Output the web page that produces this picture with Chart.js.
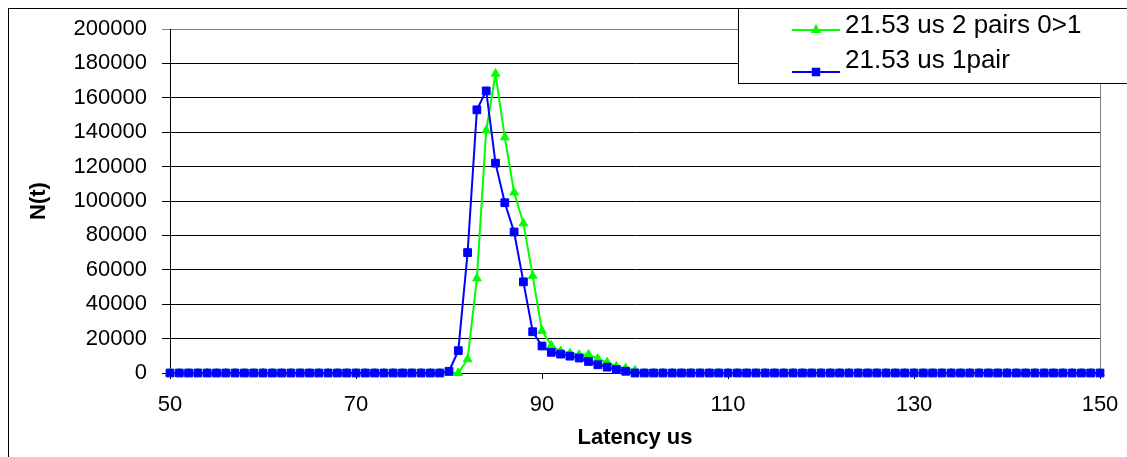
<!DOCTYPE html>
<html>
<head>
<meta charset="utf-8">
<title>Latency distribution</title>
<script src="https://cdn.jsdelivr.net/npm/chart.js@4.4.1/dist/chart.umd.min.js"></script>
<style>
  html, body { margin: 0; padding: 0; background: #fff; }
  #wrap { width: 1127px; height: 457px; }
</style>
</head>
<body>
<div id="wrap"><canvas id="latencyChart" width="1127" height="457"></canvas></div>
<script>
// latency bins (us)
const latency = [
  50, 51, 52, 53, 54, 55, 56, 57, 58, 59,
  60, 61, 62, 63, 64, 65, 66, 67, 68, 69,
  70, 71, 72, 73, 74, 75, 76, 77, 78, 79,
  80, 81, 82, 83, 84, 85, 86, 87, 88, 89,
  90, 91, 92, 93, 94, 95, 96, 97, 98, 99,
  100, 101, 102, 103, 104, 105, 106, 107, 108, 109,
  110, 111, 112, 113, 114, 115, 116, 117, 118, 119,
  120, 121, 122, 123, 124, 125, 126, 127, 128, 129,
  130, 131, 132, 133, 134, 135, 136, 137, 138, 139,
  140, 141, 142, 143, 144, 145, 146, 147, 148, 149,
  150
];

// N(t), 2 pairs 0>1
const twoPairs = [
  0, 0, 0, 0, 0, 0, 0, 0, 0, 0,
  0, 0, 0, 0, 0, 0, 0, 0, 0, 0,
  0, 0, 0, 0, 0, 0, 0, 0, 0, 0,
  0, 0, 8000, 55000, 141000, 174000, 137000, 105000, 87000, 56500,
  24500, 16000, 12700, 11500, 10600, 10700, 8300, 6300, 3800, 2800,
  1500, 0, 0, 0, 0, 0, 0, 0, 0, 0,
  0, 0, 0, 0, 0, 0, 0, 0, 0, 0,
  0, 0, 0, 0, 0, 0, 0, 0, 0, 0,
  0, 0, 0, 0, 0, 0, 0, 0, 0, 0,
  0, 0, 0, 0, 0, 0, 0, 0, 0, 0,
  0
];

// N(t), 1 pair
const onePair = [
  0, 0, 0, 0, 0, 0, 0, 0, 0, 0,
  0, 0, 0, 0, 0, 0, 0, 0, 0, 0,
  0, 0, 0, 0, 0, 0, 0, 0, 0, 0,
  1000, 13000, 70000, 153000, 164000, 122000, 99000, 82000, 53000, 24000,
  15700, 12000, 11000, 9800, 8700, 6700, 4800, 3400, 2000, 1000,
  0, 0, 0, 0, 0, 0, 0, 0, 0, 0,
  0, 0, 0, 0, 0, 0, 0, 0, 0, 0,
  0, 0, 0, 0, 0, 0, 0, 0, 0, 0,
  0, 0, 0, 0, 0, 0, 0, 0, 0, 0,
  0, 0, 0, 0, 0, 0, 0, 0, 0, 0,
  0
];

const seriesLabels = ['21.53 us 2 pairs 0>1', '21.53 us 1pair'];
const xTicks = [50, 70, 90, 110, 130, 150];
const yMax = 200000;
const yStep = 20000;

const FONT = '"Liberation Sans", Arial, sans-serif';

function points(values) {
    return latency.map((x, i) => ({ x: x, y: values[i] }));
}

// outer frame, plot border on the right
const framePlugin = {
    id: 'frame',
    beforeDatasetsDraw(chart) {
        const { ctx, chartArea } = chart;
        ctx.save();
        ctx.strokeStyle = '#808080';
        ctx.lineWidth = 1;
        ctx.beginPath();
        ctx.moveTo(Math.round(chartArea.right) + 0.5, chartArea.top);
        ctx.lineTo(Math.round(chartArea.right) + 0.5, chartArea.bottom);
        ctx.stroke();
        ctx.restore();
    },
    afterDraw(chart) {
        const ctx = chart.ctx;
        ctx.save();
        ctx.strokeStyle = '#000';
        ctx.lineWidth = 1;
        ctx.strokeRect(8.5, 8.5, 1200, 600);
        ctx.restore();
    }
};

// legend box in the top right corner
const legendBox = {
    id: 'legendBox',
    afterDraw(chart) {
        const ctx = chart.ctx;
        ctx.save();
        ctx.fillStyle = '#fff';
        ctx.fillRect(738, 8, 500, 75);
        ctx.strokeStyle = '#000';
        ctx.lineWidth = 1;
        ctx.strokeRect(738.5, 8.5, 500, 75);

        const rows = [
            { ds: chart.data.datasets[1], lineY: 30, textY: 26 },
            { ds: chart.data.datasets[0], lineY: 72, textY: 61 }
        ];
        rows.forEach(r => {
            ctx.strokeStyle = r.ds.borderColor;
            ctx.lineWidth = 2;
            ctx.beginPath();
            ctx.moveTo(792, r.lineY);
            ctx.lineTo(840, r.lineY);
            ctx.stroke();
            ctx.fillStyle = r.ds.backgroundColor;
            Chart.helpers.drawPoint(ctx, {
                pointStyle: r.ds.pointStyle,
                radius: r.ds.pointRadius - 1,
                borderWidth: 1,
                rotation: 0
            }, 816, r.lineY);
            ctx.fillStyle = '#000';
            ctx.font = '26px ' + FONT;
            ctx.textBaseline = 'middle';
            ctx.textAlign = 'left';
            ctx.fillText(r.ds.label, 845, r.textY);
        });
        ctx.restore();
    }
};

const chart = new Chart(document.getElementById('latencyChart').getContext('2d'), {
    type: 'line',
    data: {
        datasets: [
            {
                label: seriesLabels[1],
                data: points(onePair),
                borderColor: '#0000ff',
                backgroundColor: '#0000ff',
                borderWidth: 2,
                pointStyle: 'rect',
                pointRadius: 5.5,
                pointBorderWidth: 1,
                tension: 0,
                clip: false
            },
            {
                label: seriesLabels[0],
                data: points(twoPairs),
                borderColor: '#00ff00',
                backgroundColor: '#00ff00',
                borderWidth: 2,
                pointStyle: 'triangle',
                pointRadius: 5,
                pointBorderWidth: 1,
                tension: 0,
                clip: false
            }
        ]
    },
    options: {
        animation: false,
        responsive: false,
        devicePixelRatio: 1,
        layout: { padding: { top: 29, right: 27, left: 0, bottom: 0 } },
        plugins: {
            legend: { display: false },
            tooltip: { enabled: false }
        },
        scales: {
            x: {
                type: 'linear',
                min: 50,
                max: 150,
                afterFit(scale) {
                    scale.height = 84;
                    scale.paddingLeft = 0;
                    scale.paddingRight = 0;
                },
                afterBuildTicks(scale) { scale.ticks = xTicks.map(v => ({ value: v })); },
                ticks: {
                    color: '#000',
                    font: { family: FONT, size: 22 },
                    padding: 13,
                    maxRotation: 0,
                    autoSkip: false
                },
                grid: {
                    drawOnChartArea: false,
                    color: '#000',
                    tickLength: 6
                },
                border: { color: '#000', width: 1 },
                title: {
                    display: true,
                    text: 'Latency us',
                    color: '#000',
                    font: { family: FONT, size: 22, weight: 'bold' },
                    padding: { top: 0, bottom: 6 }
                }
            },
            y: {
                min: 0,
                max: yMax,
                afterFit(scale) { scale.width = 170; },
                ticks: {
                    stepSize: yStep,
                    color: '#000',
                    font: { family: FONT, size: 22 },
                    padding: 15,
                    callback: v => String(v)
                },
                grid: {
                    color: ctx => (ctx.tick && ctx.tick.value === yMax ? '#808080' : '#000'),
                    tickLength: 8
                },
                border: { color: '#000', width: 1 },
                title: {
                    display: true,
                    text: 'N(t)',
                    color: '#000',
                    font: { family: FONT, size: 22, weight: 'bold' },
                    padding: { top: 26, bottom: 0 }
                }
            }
        }
    },
    plugins: [framePlugin, legendBox]
});
</script>
</body>
</html>
